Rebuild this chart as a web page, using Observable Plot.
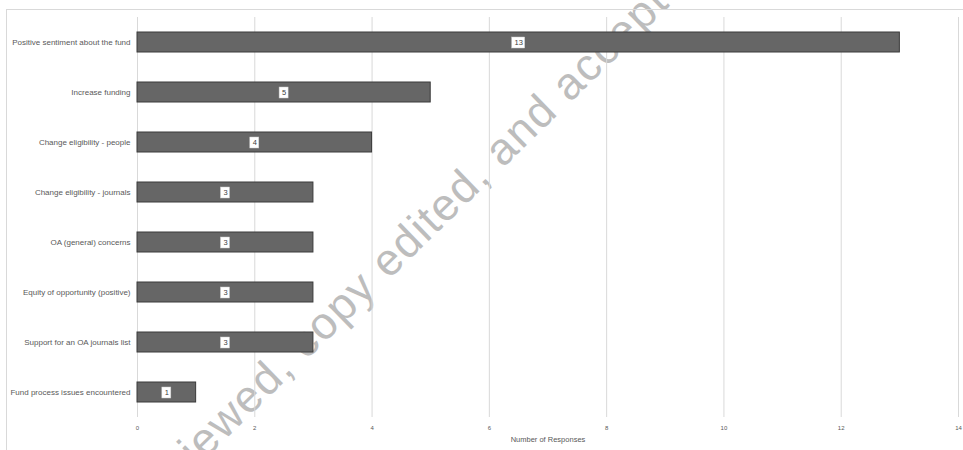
<!DOCTYPE html>
<html>
<head>
<meta charset="utf-8">
<script src="https://cdn.jsdelivr.net/npm/d3@7"></script>
<script src="https://cdn.jsdelivr.net/npm/@observablehq/plot@0.6"></script>
<style>
  html, body { margin: 0; padding: 0; background: #fff; }
  #wrap { position: relative; width: 963px; height: 450px; overflow: hidden; }
  #border { position: absolute; left: 6px; top: 9px; width: 1000px; height: 500px;
            border-top: 1px solid #d9d9d9; border-left: 1px solid #d9d9d9; pointer-events: none; }
</style>
</head>
<body>
<div id="wrap"><div id="border"></div></div>
<script>
const categories = [
  "Positive sentiment about the fund",
  "Increase funding",
  "Change eligibility - people",
  "Change eligibility - journals",
  "OA (general) concerns",
  "Equity of opportunity (positive)",
  "Support for an OA journals list",
  "Fund process issues encountered"
];
const values = [13, 5, 4, 3, 3, 3, 3, 1];
const xTicks = [0, 2, 4, 6, 8, 10, 12, 14];
const xLabel = "Number of Responses";
const watermark = "peer reviewed, copy edited, and accepted";

const data = categories.map((c, i) => ({category: c, value: values[i]}));
const oneDigit = data.filter(d => String(d.value).length === 1);
const twoDigit = data.filter(d => String(d.value).length > 1);

const chart = Plot.plot({
  width: 963,
  height: 450,
  marginLeft: 137,
  marginRight: 5,
  marginTop: 17,
  marginBottom: 33,
  style: {fontFamily: "'Liberation Sans', Arial, sans-serif", background: "transparent"},
  x: {domain: [0, 14]},
  y: {domain: categories, paddingInner: 0.6, paddingOuter: 0.3},
  marks: [
    Plot.gridX(xTicks, {stroke: "#d9d9d9", strokeOpacity: 1, strokeWidth: 1}),
    Plot.barX(data, {x: "value", y: "category", fill: "#666666", stroke: "#3a3a3a", strokeWidth: 1}),
    Plot.barX(oneDigit, {x1: d => d.value / 2, x2: d => d.value / 2, y: "category",
      insetLeft: -4.5, insetRight: -4.5, insetTop: 5, insetBottom: 4, fill: "white", stroke: "#cccccc", strokeWidth: 0.5}),
    Plot.barX(twoDigit, {x1: d => d.value / 2, x2: d => d.value / 2, y: "category",
      insetLeft: -6.5, insetRight: -6.5, insetTop: 5, insetBottom: 4, fill: "white", stroke: "#cccccc", strokeWidth: 0.5}),
    Plot.text(data, {x: d => d.value / 2, y: "category", text: d => String(d.value), fontSize: 7.5, fill: "#404040", dy: 0.5}),
    Plot.axisY({tickSize: 0, tickPadding: 7, fontSize: 8, color: "#595959", label: null}),
    Plot.axisX({ticks: xTicks, tickSize: 0, tickPadding: 8, fontSize: 6, color: "#595959", label: null}),
    Plot.text([xLabel], {frameAnchor: "bottom", dy: 22, text: d => d, fontSize: 7.5, fill: "#595959", lineAnchor: "middle"})
  ]
});

// watermark behind everything
const svg = d3.select(chart);
svg.insert("text", ":first-child")
  .attr("transform", "translate(70,591) rotate(-44.3)")
  .attr("text-anchor", "start")
  .attr("font-size", 45)
  .attr("letter-spacing", 1.5)
  .attr("font-family", "'Liberation Sans', Arial, sans-serif")
  .attr("fill", "#bdbdbd")
  .text(watermark);

document.getElementById("wrap").prepend(chart);
chart.style.position = "absolute";
chart.style.left = "0";
chart.style.top = "0";
</script>
</body>
</html>
